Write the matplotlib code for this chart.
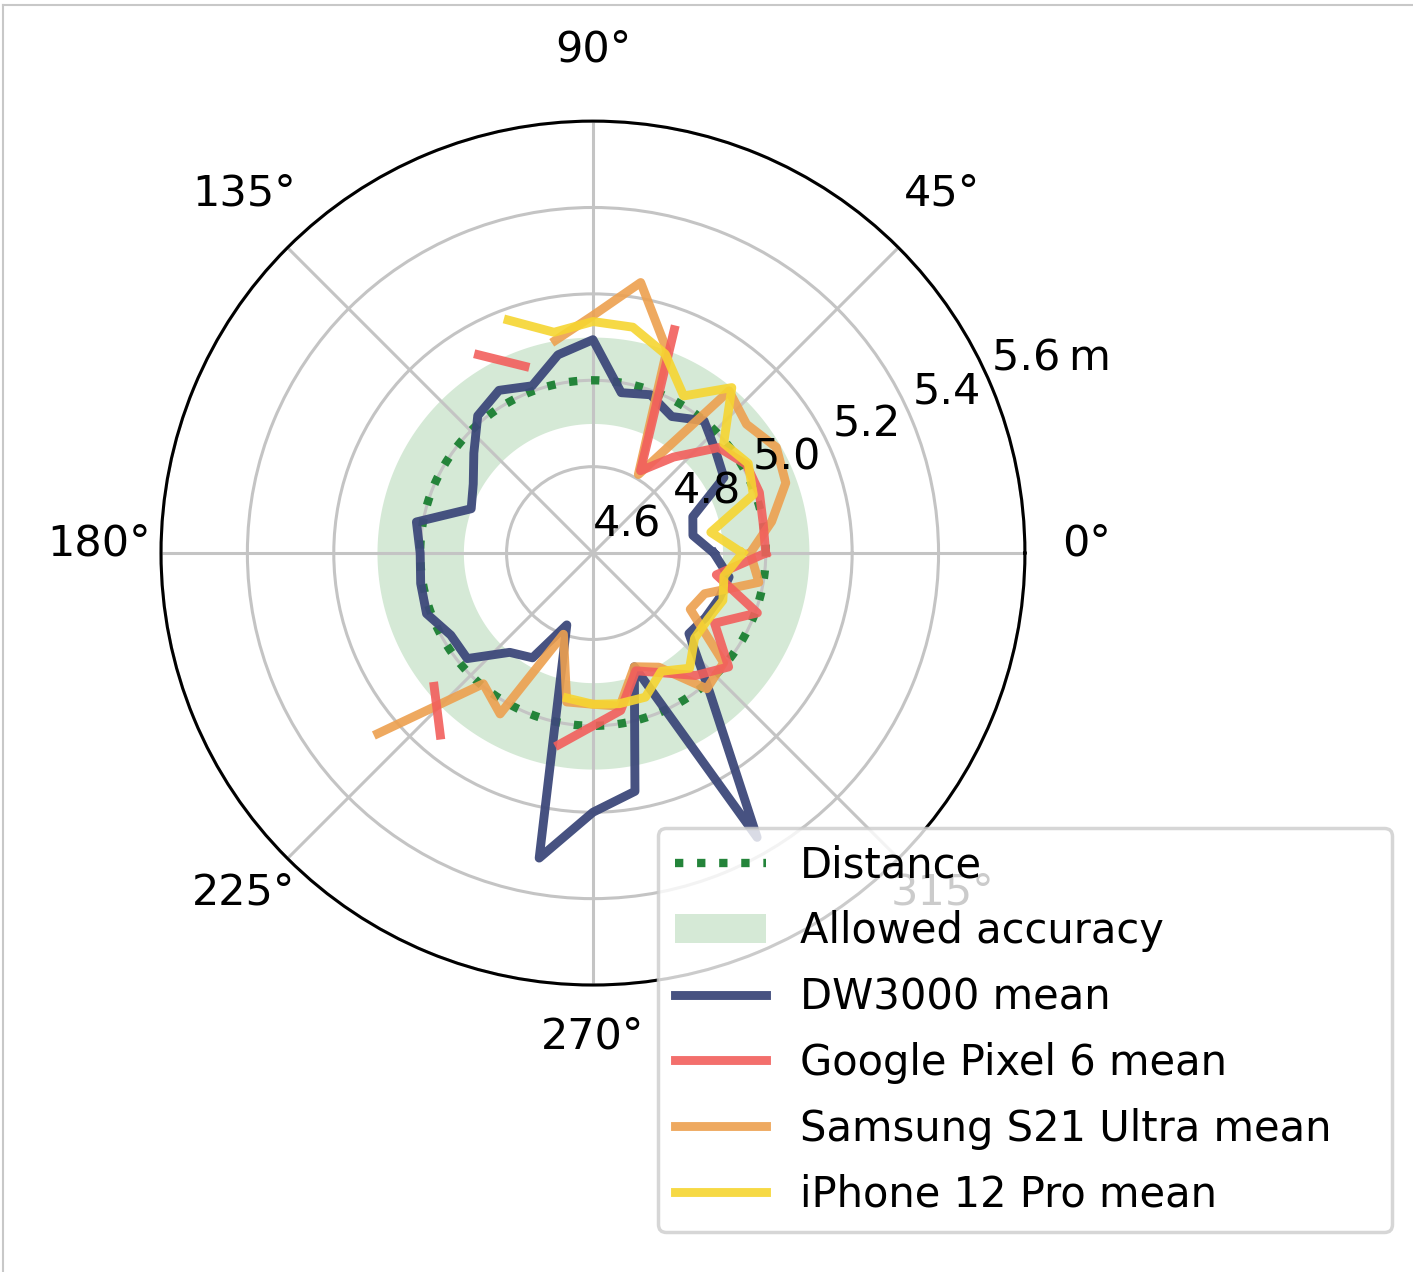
import numpy as np
import matplotlib.pyplot as plt
import matplotlib.transforms as mtransforms

nan = np.nan

# angles of the measurements (deg) and the mean measured distance (m)
angles_deg = np.arange(0, 360, 10)

dw3000 = [4.88, 4.835, 4.846, 4.95, 4.97, 5.00, 4.965, 4.99, 4.977, 5.094,
          5.066, 5.012, 5.035, 5.015, 4.96, 4.92, 4.90, 5.015, 5.00, 5.005,
          5.01, 4.98, 4.98, 4.90, 4.88, 4.777, 5.317, 5.20, 5.16, 4.88,
          5.36, 5.02, 4.89, 4.90, 4.91, 4.92]

pixel6 = [5.00, 5.00, 5.01, 5.01, 4.98, 4.89, 4.82, 5.15, nan, nan,
          nan, 5.06, 5.13, nan, nan, nan, nan, nan, nan, nan,
          nan, nan, 5.08, 5.15, nan, nan, 5.05, 5.00, 4.97, 4.89,
          4.92, 4.97, 5.01, 4.925, 5.005, 4.89]

s21 = [4.964, 5.02, 5.075, 5.09, 5.064, 5.09, 4.81, 5.10, 5.236, 5.15,
       5.10, nan, nan, nan, nan, nan, nan, nan, nan, nan,
       nan, nan, 5.25, 4.995, 5.03, 4.80, 4.95, 4.95, 4.96, 4.88,
       4.905, 5.01, 4.995, 4.86, 4.875, 4.99]

iphone = [4.946, 4.877, 4.995, 5.015, 4.995, 5.10, 5.02, 5.09, 5.131, 5.136,
          5.119, 5.174, nan, nan, nan, nan, nan, nan, nan, nan,
          nan, nan, nan, nan, nan, nan, 4.941, 4.95, 4.954, 4.955,
          4.916, 4.948, 4.907, 4.907, 4.92, 4.908]

distance = 5.0
tolerance = 0.1

rticks = [4.6, 4.8, 5.0, 5.2, 5.4, 5.6]
rtick_labels = ['4.6', '4.8', '5.0', '5.2', '5.4', '5.6\u2009m']
theta_ticks = list(range(0, 360, 45))


def closed(vals):
    # repeat the first point so the curve wraps around 360°
    theta = np.deg2rad(np.append(angles_deg, 360))
    r = np.append(vals, vals[0])
    return theta, r


plt.rcParams['font.family'] = 'DejaVu Sans'

fig = plt.figure(figsize=(14.13, 12.72), dpi=100)
rect = [0.1139, 0.2256, 0.6115, 0.6792]
ax = fig.add_axes(rect, projection='polar')

full = np.linspace(0, 2 * np.pi, 361)
ax.plot(full, np.full_like(full, distance), ':', color='#24843a', lw=6.0,
        label='Distance', zorder=3)
ax.fill_between(full, distance - tolerance, distance + tolerance,
                color='#d5e9d6', lw=0, label='Allowed accuracy', zorder=1)

lw = 6.4
ax.plot(*closed(dw3000), color='#3d497a', lw=lw, alpha=0.95,
        label='DW3000 mean', zorder=4)
ax.plot(*closed(pixel6), color='#f25f5c', lw=lw, alpha=0.9,
        label='Google Pixel 6 mean', zorder=6)
ax.plot(*closed(s21), color='#eda04f', lw=lw, alpha=0.9,
        label='Samsung S21 Ultra mean', zorder=5)
ax.plot(*closed(iphone), color='#f6d531', lw=lw, alpha=0.9,
        label='iPhone 12 Pro mean', zorder=7)

ax.set_ylim(4.6, 5.6)
ax.set_yticks(rticks)
ax.set_yticklabels([''] * len(rticks))
ax.set_thetagrids(theta_ticks, [''] * len(theta_ticks))
ax.grid(True, color='#c4c4c4', lw=2.2)
ax.spines['polar'].set_linewidth(2.2)
ax.spines['polar'].set_color('black')

# transparent twin axes on top, only for the tick labels (they sit above the lines)
ax_lab = fig.add_axes(rect, projection='polar', label='labels')
ax_lab.set_facecolor('none')
ax_lab.spines['polar'].set_visible(False)
ax_lab.set_ylim(4.6, 5.6)
ax_lab.set_yticks(rticks)
ax_lab.set_yticklabels(rtick_labels)
ax_lab.set_thetagrids(theta_ticks)
ax_lab.grid(False)
ax_lab.tick_params(axis='both', labelsize=31)
ax_lab.tick_params(axis='x', pad=34)

# nudge the tick labels up a little, like in the original
up_theta = mtransforms.ScaledTranslation(0, 0.10, fig.dpi_scale_trans)
up_r = mtransforms.ScaledTranslation(0, 0.08, fig.dpi_scale_trans)
for lab in ax_lab.get_xticklabels():
    lab.set_transform(lab.get_transform() + up_theta)
for lab in ax_lab.get_yticklabels():
    lab.set_transform(lab.get_transform() + up_r)

handles, labels = ax.get_legend_handles_labels()
leg = ax_lab.legend(handles, labels, loc='upper left',
                    bbox_to_anchor=(0.4657, 0.0, 0.5195, 0.349),
                    bbox_transform=fig.transFigure, mode='expand', borderaxespad=0,
                    fontsize=30, handlelength=2.2, labelspacing=0.57,
                    framealpha=0.8, edgecolor='#cccccc')
leg.get_frame().set_linewidth(2.5)
leg.set_zorder(10)

# thin border of the original image
fig.add_artist(plt.Line2D([0.002, 1], [0.996, 0.996], transform=fig.transFigure,
                          color='#c8c8c8', lw=1.5))
fig.add_artist(plt.Line2D([0.002, 0.002], [0, 0.996], transform=fig.transFigure,
                          color='#c8c8c8', lw=1.5))

fig.savefig('out.png', dpi=100)
